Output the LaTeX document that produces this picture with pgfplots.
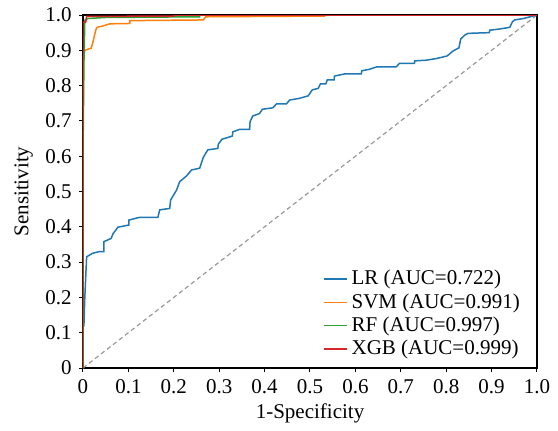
\documentclass[border=0pt]{standalone}
\usepackage{fontspec}
\setmainfont{LiberationSerif}[Extension=.ttf, UprightFont=*-Regular, BoldFont=*-Bold, ItalicFont=*-Italic]
\usepackage{pgfplots}
\pgfplotsset{compat=1.18}

\definecolor{cLR}{HTML}{1F77B4}
\definecolor{cSVM}{HTML}{FF7F0E}
\definecolor{cRF}{HTML}{2CA02C}
\definecolor{cXGB}{HTML}{D62728}

\begin{document}
\begin{tikzpicture}
\fontsize{10.5}{12}\selectfont
\begin{axis}[
    name=ax,
    scale only axis,
    width=227pt, height=176.5pt,
    xmin=0, xmax=1, ymin=0, ymax=1,
    xtick={0,0.1,...,1}, ytick={0,0.1,...,1},
    xticklabels={0,0.1,0.2,0.3,0.4,0.5,0.6,0.7,0.8,0.9,1.0},
    yticklabels={0,0.1,0.2,0.3,0.4,0.5,0.6,0.7,0.8,0.9,1.0},
    xtick pos=bottom, ytick pos=left,
    tick align=outside, major tick length=2pt,
    tick style={black, line width=0.5pt},
    axis line style={black, line width=0.6pt},
    ticklabel style={font=\fontsize{10.5}{12}\selectfont},
    label style={font=\fontsize{10.5}{12}\selectfont},
    xlabel={1-Specificity}, ylabel={Sensitivity},
    xlabel style={yshift=2pt},
    ylabel style={yshift=-1pt},
    legend style={at={(0.985,0.005)}, anchor=south east, draw=none, fill=none,
        font=\fontsize{10.5}{12}\selectfont, row sep=-1.2pt},
    legend cell align=left,
    legend image code/.code={\draw[#1, line width=0.75pt] (0pt,0pt) -- (11.5pt,0pt);},
    every axis plot/.append style={line width=0.75pt},
]
\addplot[gray!80, dashed, dash pattern=on 2.2pt off 1.6pt, line width=0.6pt, forget plot]
    coordinates {(0,0) (1,1)};

\addplot[cLR] coordinates {
(0,0)(0,0.12)(0.002,0.12)(0.004,0.2)(0.008,0.315)(0.021,0.325)(0.037,0.33)(0.046,0.33)
(0.046,0.358)(0.062,0.367)(0.066,0.38)(0.077,0.399)(0.101,0.405)(0.101,0.419)(0.125,0.427)
(0.165,0.427)(0.169,0.448)(0.191,0.452)(0.193,0.476)(0.206,0.504)(0.213,0.528)(0.228,0.544)
(0.239,0.561)(0.257,0.566)(0.265,0.597)(0.275,0.618)(0.297,0.622)(0.298,0.634)(0.306,0.648)
(0.329,0.657)(0.330,0.669)(0.345,0.676)(0.367,0.676)(0.368,0.698)(0.374,0.714)(0.389,0.721)
(0.395,0.733)(0.418,0.737)(0.426,0.748)(0.448,0.748)(0.455,0.759)(0.477,0.764)(0.496,0.771)
(0.505,0.788)(0.518,0.792)(0.523,0.805)(0.535,0.805)(0.538,0.816)(0.553,0.816)(0.554,0.827)
(0.576,0.833)(0.613,0.833)(0.614,0.842)(0.630,0.846)(0.647,0.853)(0.690,0.853)(0.697,0.863)
(0.730,0.863)(0.731,0.870)(0.756,0.872)(0.780,0.877)(0.802,0.884)(0.815,0.898)(0.828,0.907)
(0.832,0.932)(0.841,0.943)(0.848,0.948)(0.895,0.950)(0.896,0.957)(0.916,0.960)(0.940,0.965)
(0.946,0.981)(0.951,0.986)(0.970,0.990)(1,1)
};
\addlegendentry{LR (AUC=0.722)}

\addplot[cSVM] coordinates {
(0,0)(0,0.6)(0.001,0.88)(0.004,0.9)(0.018,0.906)(0.022,0.924)(0.028,0.957)(0.031,0.965)
(0.044,0.969)(0.059,0.975)(0.103,0.976)(0.103,0.984)(0.265,0.986)(0.27,0.995)(0.532,0.997)
(0.532,1)(1,1)
};
\addlegendentry{SVM (AUC=0.991)}

\addplot[cRF] coordinates {
(0,0)(0,0.6)(0.002,0.86)(0.004,0.985)(0.01,0.99)(0.05,0.993)(0.257,0.995)(0.257,1)(1,1)
};
\addlegendentry{RF (AUC=0.997)}

\addplot[cXGB] coordinates {
(0,0)(0,0.98)(0.006,0.98)(0.008,0.996)(0.2,0.997)(0.2,1)(1,1)
};
\addlegendentry{XGB (AUC=0.999)}
\end{axis}
\pgfresetboundingbox
\path[use as bounding box] ([xshift=-41.5pt,yshift=-31pt]ax.south west)
    rectangle ([xshift=10.5pt,yshift=7.5pt]ax.north east);
\end{tikzpicture}
\end{document}
